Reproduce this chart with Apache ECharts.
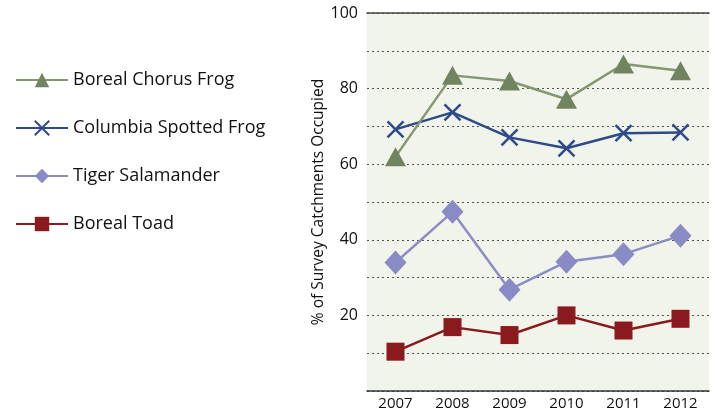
<!DOCTYPE html>
<html>
<head>
<meta charset="utf-8">
<script src="https://cdn.jsdelivr.net/npm/echarts@6/dist/echarts.min.js"></script>
<style>
html,body{margin:0;padding:0;background:#fff;}
#chart{width:715px;height:411px;}
</style>
</head>
<body>
<div id="chart"></div>
<script>
// data
var years = ['2007', '2008', '2009', '2010', '2011', '2012'];
var chorusFrog = [62, 83.5, 82, 77.2, 86.5, 84.7];
var spottedFrog = [69.2, 73.7, 67.1, 64.2, 68.2, 68.4];
var tigerSal = [34, 47.4, 26.8, 34.2, 36.2, 41.1];
var borealToad = [10.4, 16.9, 14.8, 20, 16, 19.1];

var crossPath = 'path://M0,0L10,10M10,0L0,10';

var chart = echarts.init(document.getElementById('chart'));
var font = '"Open Sans", "Noto Sans", sans-serif';

var option = {
    animation: false,
    textStyle: { fontFamily: font },
    legend: {
        orient: 'vertical',
        left: 15,
        top: 71,
        padding: 0,
        itemWidth: 52,
        itemHeight: 18,
        itemGap: 30,
        textStyle: { fontSize: 18, color: '#111', fontFamily: font },
        data: ['Boreal Chorus Frog', 'Columbia Spotted Frog', 'Tiger Salamander', 'Boreal Toad']
    },
    grid: {
        left: 367,
        right: 6,
        top: 13,
        bottom: 20,
        show: true,
        backgroundColor: '#f1f4eb',
        borderWidth: 0
    },
    xAxis: [{
        type: 'category',
        data: years,
        boundaryGap: true,
        axisLine: { lineStyle: { color: '#333', width: 1.5 } },
        axisTick: { show: false },
        axisLabel: { color: '#111', fontSize: 15, margin: 5 }
    }, {
        type: 'category',
        data: years,
        position: 'top',
        axisLine: { show: true, lineStyle: { color: '#444', width: 1.5 } },
        axisTick: { show: false },
        axisLabel: { show: false }
    }],
    yAxis: {
        type: 'value',
        min: 0,
        max: 100,
        interval: 10,
        name: '% of Survey Catchments Occupied',
        nameLocation: 'middle',
        nameGap: 33,
        nameTextStyle: { fontSize: 15.5, color: '#111' },
        axisLine: { show: false },
        axisTick: { show: false },
        axisLabel: {
            color: '#111',
            fontSize: 16,
            margin: 9,
            formatter: function (v) { return (v % 20 === 0 && v > 0) ? v : ''; }
        },
        splitLine: { lineStyle: { color: '#555', type: [2, 3], width: 1 } }
    },
    series: [{
        name: 'Boreal Chorus Frog',
        type: 'line',
        data: chorusFrog,
        symbol: 'triangle',
        symbolSize: [21, 19],
        lineStyle: { color: '#84976f', width: 2.5 },
        itemStyle: { color: '#72845f' },
        z: 4
    }, {
        name: 'Columbia Spotted Frog',
        type: 'line',
        data: spottedFrog,
        symbol: crossPath,
        symbolSize: 16,
        lineStyle: { color: '#2e4a8a', width: 2.5 },
        itemStyle: { color: '#2e4a8a', borderColor: '#2e4a8a', borderWidth: 2.5 },
        z: 3
    }, {
        name: 'Tiger Salamander',
        type: 'line',
        data: tigerSal,
        symbol: 'diamond',
        symbolSize: [22, 24],
        lineStyle: { color: '#8c8dc7', width: 2.5 },
        itemStyle: { color: '#8a8bc4' },
        z: 2
    }, {
        name: 'Boreal Toad',
        type: 'line',
        data: borealToad,
        symbol: 'rect',
        symbolSize: 18,
        lineStyle: { color: '#8b1a1e', width: 2.5 },
        itemStyle: { color: '#8b1a1e' },
        z: 2
    }]
};
chart.setOption(option);
</script>
</body>
</html>
